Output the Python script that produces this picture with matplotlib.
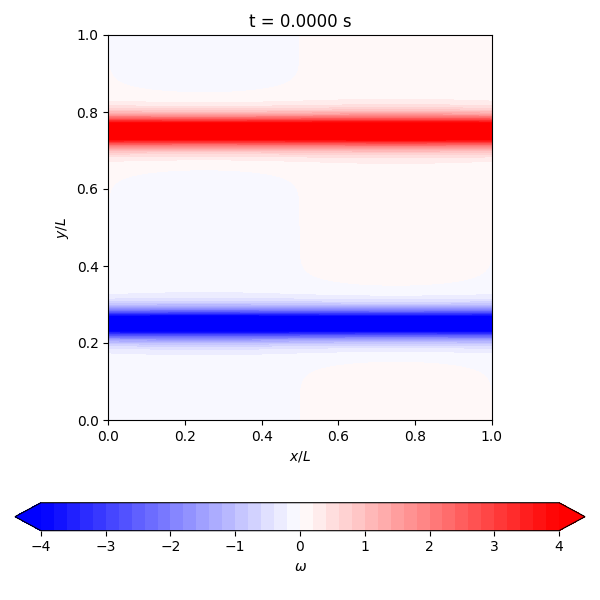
import numpy as np
import matplotlib
matplotlib.use("Agg")
import matplotlib.pyplot as plt

# ---- data ----
title_text = "t = 0.0000 s"
band_centers = [0.25, 0.75]      # y/L of the two shear layers
band_signs = [-1.0, 1.0]         # sign of vorticity in each layer
band_peak = 5.85                 # peak |omega| of each layer
band_width = 0.033               # sech^2 thickness of each layer
perturbation_amplitude = 0.054   # amplitude of the x-perturbation of omega
level_min, level_max, n_levels = -4.0, 4.0, 41
cbar_ticks = [-4, -3, -2, -1, 0, 1, 2, 3, 4]
axis_ticks = [0.0, 0.2, 0.4, 0.6, 0.8, 1.0]
n_grid = 256

# ---- field ----
x = np.linspace(0.0, 1.0, n_grid)
y = np.linspace(0.0, 1.0, n_grid)
X, Y = np.meshgrid(x, y)
omega = -perturbation_amplitude * np.sin(2 * np.pi * X)
for yc, s in zip(band_centers, band_signs):
    omega = omega + s * band_peak / np.cosh((Y - yc) / band_width) ** 2

levels = np.linspace(level_min, level_max, n_levels)

fig = plt.figure(figsize=(6, 6), dpi=100)
ax = fig.add_axes([108.3 / 600, 180 / 600, 383.4 / 600, 385 / 600])
cf = ax.contourf(X, Y, omega, levels=levels, cmap="bwr", extend="both")
ax.set_xlim(0, 1)
ax.set_ylim(0, 1)
ax.set_xticks(axis_ticks)
ax.set_yticks(axis_ticks)
ax.set_xlabel("$x/L$")
ax.set_ylabel("$y/L$")
ax.set_title(title_text)

cax = fig.add_axes([15 / 600, (600 - 530.7) / 600, 570 / 600, 28 / 600])
cb = fig.colorbar(cf, cax=cax, orientation="horizontal", extend="both")
cb.set_ticks(cbar_ticks)
cb.set_label(r"$\omega$")

fig.savefig("out.png", dpi=100)
